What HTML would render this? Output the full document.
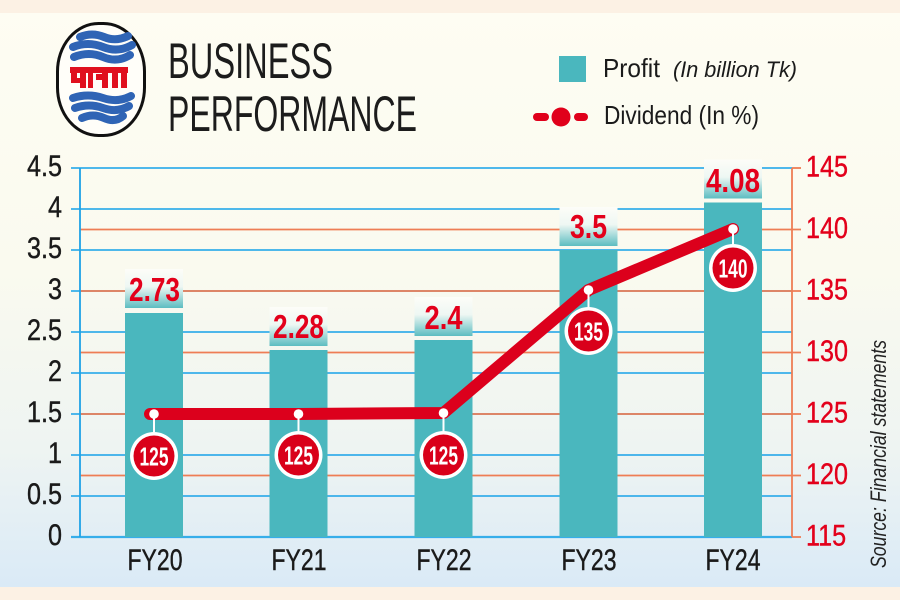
<!DOCTYPE html>
<html><head><meta charset="utf-8"><style>
html,body{margin:0;padding:0;width:900px;height:600px;overflow:hidden;background:#fdfcf3}
svg{display:block}
text{font-family:"Liberation Sans",sans-serif}
</style></head><body>
<svg width="900" height="600" viewBox="0 0 900 600" xmlns="http://www.w3.org/2000/svg">
<defs>
<linearGradient id="bg" x1="0" y1="0" x2="0" y2="1">
<stop offset="0" stop-color="#fefdf3"/>
<stop offset="0.45" stop-color="#fafaef"/>
<stop offset="0.75" stop-color="#eef4f2"/>
<stop offset="1" stop-color="#d8e9f7"/>
</linearGradient>
<linearGradient id="box" x1="0" y1="0" x2="0" y2="1">
<stop offset="0" stop-color="#fdfdf8"/>
<stop offset="0.45" stop-color="#eef7f3"/>
<stop offset="1" stop-color="#5dbdc1"/>
</linearGradient>
</defs>
<rect x="0" y="0" width="900" height="600" fill="url(#bg)"/>
<rect x="0" y="0" width="900" height="13" fill="#fcf1e4"/>
<rect x="0" y="587" width="900" height="13" fill="#fcf1e4"/>

<!-- Logo -->
<rect x="57.5" y="23.5" width="87" height="112" rx="41" ry="48" fill="#fffef9" stroke="#111" stroke-width="3"/>
<g fill="none" stroke="#2f64b5" stroke-width="8" stroke-linecap="round">
<path d="M80 37 Q92 32 104 37 T128 36"/>
<path d="M73 47 Q88 41 103 47 T132 45"/>
<path d="M74 57 Q89 51 103 57 T130 55"/>
<path d="M73 98 Q88 93 103 98 T131 96"/>
<path d="M75 108 Q89 103 103 108 T129 106"/>
<path d="M82 118 Q93 113 104 118 T123 116"/>
</g>
<g fill="#e0101e">
<rect x="70" y="67" width="58" height="6"/>
<rect x="71" y="72" width="6" height="10"/>
<rect x="80" y="72" width="6" height="16"/>
<rect x="88" y="72" width="5" height="16"/>
<rect x="96" y="74" width="10" height="6"/>
<rect x="102" y="72" width="6" height="16"/>
<rect x="112" y="72" width="6" height="16"/>
<rect x="121" y="72" width="6" height="16"/>
<rect x="71" y="78" width="13" height="5"/>
</g>

<!-- Title -->
<text x="168" y="78" font-size="50" fill="#1c1c1c" textLength="165" lengthAdjust="spacingAndGlyphs">BUSINESS</text>
<text x="168" y="131" font-size="50" fill="#1c1c1c" textLength="249" lengthAdjust="spacingAndGlyphs">PERFORMANCE</text>

<!-- Legend -->
<rect x="559" y="56" width="27" height="26" fill="#4ab7be"/>
<text x="603" y="77" font-size="26" fill="#1a1a1a" textLength="57" lengthAdjust="spacingAndGlyphs">Profit</text>
<text x="673" y="77" font-size="22" font-style="italic" fill="#1a1a1a" textLength="124" lengthAdjust="spacingAndGlyphs">(In billion Tk)</text>
<g stroke="#e0001b" stroke-width="8" stroke-linecap="round">
<line x1="537" y1="117" x2="545" y2="117"/>
<line x1="578" y1="117" x2="584" y2="117"/>
</g>
<circle cx="561" cy="117" r="9.5" fill="#e0001b"/>
<text x="604" y="124" font-size="26" fill="#1a1a1a" textLength="155" lengthAdjust="spacingAndGlyphs">Dividend (In %)</text>

<!-- Blue gridlines -->
<g stroke="#36aeea" stroke-width="1.8">
<line x1="71" y1="168" x2="792" y2="168"/>
<line x1="71" y1="209" x2="792" y2="209"/>
<line x1="71" y1="250" x2="792" y2="250"/>
<line x1="71" y1="291" x2="792" y2="291"/>
<line x1="71" y1="332" x2="792" y2="332"/>
<line x1="71" y1="373" x2="792" y2="373"/>
<line x1="71" y1="414" x2="792" y2="414"/>
<line x1="71" y1="455" x2="792" y2="455"/>
<line x1="71" y1="496" x2="792" y2="496"/>
</g>
<!-- Orange gridlines -->
<g stroke="#ee7d55" stroke-width="1.8">
<line x1="80" y1="229.5" x2="801" y2="229.5"/>
<line x1="80" y1="291" x2="801" y2="291"/>
<line x1="80" y1="352.5" x2="801" y2="352.5"/>
<line x1="80" y1="414" x2="801" y2="414"/>
<line x1="80" y1="475.5" x2="801" y2="475.5"/>
<line x1="792" y1="168" x2="801" y2="168"/>
<line x1="792" y1="537" x2="801" y2="537"/>
</g>
<line x1="71" y1="537" x2="792" y2="537" stroke="#36aeea" stroke-width="2.2"/>
<!-- Axes -->
<line x1="80" y1="168" x2="80" y2="537" stroke="#1fa2e6" stroke-width="1.8"/>
<line x1="792" y1="168" x2="792" y2="537" stroke="#ee7d55" stroke-width="1.8"/>

<!-- Left labels -->
<g font-size="30" fill="#1a1a1a" stroke="#1a1a1a" stroke-width="0.4" text-anchor="end">
<text transform="translate(62,176) scale(0.84,1)">4.5</text>
<text transform="translate(62,217) scale(0.84,1)">4</text>
<text transform="translate(62,258) scale(0.84,1)">3.5</text>
<text transform="translate(62,299) scale(0.84,1)">3</text>
<text transform="translate(62,340) scale(0.84,1)">2.5</text>
<text transform="translate(62,381) scale(0.84,1)">2</text>
<text transform="translate(62,422) scale(0.84,1)">1.5</text>
<text transform="translate(62,463) scale(0.84,1)">1</text>
<text transform="translate(62,504) scale(0.84,1)">0.5</text>
<text transform="translate(62,545) scale(0.84,1)">0</text>
</g>
<!-- Right labels -->
<g font-size="30" fill="#e3001b" stroke="#e3001b" stroke-width="0.4">
<text transform="translate(806,176.5) scale(0.84,1)">145</text>
<text transform="translate(806,238) scale(0.84,1)">140</text>
<text transform="translate(806,299.5) scale(0.84,1)">135</text>
<text transform="translate(806,361) scale(0.84,1)">130</text>
<text transform="translate(806,422.5) scale(0.84,1)">125</text>
<text transform="translate(806,484) scale(0.84,1)">120</text>
<text transform="translate(806,545.5) scale(0.84,1)">115</text>
</g>

<!-- Bars -->
<g fill="#4ab7be">
<rect x="125" y="313" width="58" height="224"/>
<rect x="269.5" y="350" width="58" height="187"/>
<rect x="414.5" y="340" width="58" height="197"/>
<rect x="559.5" y="250" width="58" height="287"/>
<rect x="704" y="202.5" width="58" height="334.5"/>
</g>
<!-- Label boxes -->
<g fill="url(#box)">
<rect x="125" y="269" width="58" height="39"/>
<rect x="269.5" y="307" width="58" height="39"/>
<rect x="414.5" y="297" width="58" height="39"/>
<rect x="559.5" y="207" width="58" height="39"/>
<rect x="704" y="159.5" width="58" height="39"/>
</g>
<g font-size="33" font-weight="bold" fill="#e3001b" text-anchor="middle">
<text x="154.5" y="301" textLength="51" lengthAdjust="spacingAndGlyphs">2.73</text>
<text x="298.5" y="338" textLength="51" lengthAdjust="spacingAndGlyphs">2.28</text>
<text x="443.5" y="329" textLength="38" lengthAdjust="spacingAndGlyphs">2.4</text>
<text x="588.5" y="238" textLength="37" lengthAdjust="spacingAndGlyphs">3.5</text>
<text x="733" y="192" textLength="54" lengthAdjust="spacingAndGlyphs">4.08</text>
</g>

<!-- X labels -->
<g font-size="30" fill="#1a1a1a" stroke="#1a1a1a" stroke-width="0.4" text-anchor="middle">
<text x="155" y="570" textLength="55" lengthAdjust="spacingAndGlyphs">FY20</text>
<text x="299" y="570" textLength="55" lengthAdjust="spacingAndGlyphs">FY21</text>
<text x="444" y="570" textLength="55" lengthAdjust="spacingAndGlyphs">FY22</text>
<text x="589" y="570" textLength="55" lengthAdjust="spacingAndGlyphs">FY23</text>
<text x="733" y="570" textLength="55" lengthAdjust="spacingAndGlyphs">FY24</text>
</g>

<!-- Dividend line -->
<polyline points="150,414 298.5,414 443.5,413 588.5,290 733,229" fill="none" stroke="#dc001c" stroke-width="12" stroke-linecap="round" stroke-linejoin="round"/>
<g stroke="#ffffff" stroke-width="2">
<line x1="154" y1="414" x2="154" y2="432"/>
<line x1="298.5" y1="414" x2="298.5" y2="431"/>
<line x1="443.5" y1="413" x2="443.5" y2="431"/>
<line x1="588.5" y1="290" x2="588.5" y2="308"/>
<line x1="733" y1="229" x2="733" y2="245"/>
</g>
<g fill="#ffffff">
<circle cx="154" cy="414" r="4.8"/>
<circle cx="298.5" cy="414" r="4.8"/>
<circle cx="443.5" cy="413" r="4.8"/>
<circle cx="588.5" cy="290" r="4.8"/>
<circle cx="733" cy="229" r="4.8"/>
<circle cx="154" cy="456" r="24"/>
<circle cx="298.5" cy="455" r="24"/>
<circle cx="443.5" cy="455" r="24"/>
<circle cx="588.5" cy="331" r="24"/>
<circle cx="733" cy="268" r="24"/>
</g>
<g fill="#d9001a">
<circle cx="154" cy="456" r="20.5"/>
<circle cx="298.5" cy="455" r="20.5"/>
<circle cx="443.5" cy="455" r="20.5"/>
<circle cx="588.5" cy="331" r="20.5"/>
<circle cx="733" cy="268" r="20.5"/>
</g>
<g font-size="26" font-weight="bold" fill="#ffffff" text-anchor="middle">
<text x="154" y="465.5" textLength="29" lengthAdjust="spacingAndGlyphs">125</text>
<text x="298.5" y="464.5" textLength="29" lengthAdjust="spacingAndGlyphs">125</text>
<text x="443.5" y="464.5" textLength="29" lengthAdjust="spacingAndGlyphs">125</text>
<text x="588.5" y="340.5" textLength="29" lengthAdjust="spacingAndGlyphs">135</text>
<text x="733" y="277.5" textLength="29" lengthAdjust="spacingAndGlyphs">140</text>
</g>

<!-- Source -->
<text transform="translate(886,568) rotate(-90)" font-size="22" font-style="italic" fill="#222" textLength="228" lengthAdjust="spacingAndGlyphs">Source: Financial statements</text>
</svg>
</body></html>
